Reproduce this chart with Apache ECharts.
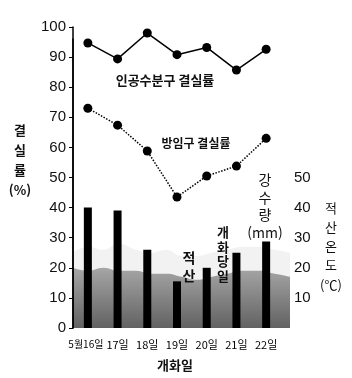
<!DOCTYPE html>
<html lang="ko">
<head>
<meta charset="UTF-8">
<title>결실률</title>
<style>html,body{margin:0;padding:0;background:#fff}#main{width:352px;height:378px}</style>
</head>
<body>
<div id="main"></div>
<script src="https://cdn.jsdelivr.net/npm/echarts@6/dist/echarts.min.js"></script>
<script>
const days = ['5월16일', '17일', '18일', '19일', '20일', '21일', '22일']
const handPollinated = [94.7, 89.4, 98, 90.8, 93.2, 85.7, 92.6]
const openPollinated = [73, 67.4, 58.8, 43.5, 50.5, 53.8, 63]
const rainfall = [40, 39, 26, 15.5, 20, 25, 28.7]
// 적산온도 shaded band, sampled across the plot (x from 0 to 1)
const tempX = [0, 0.07, 0.14, 0.21, 0.29, 0.36, 0.43, 0.5, 0.57, 0.64, 0.71, 0.79, 0.86, 0.93, 1]
const tempDense = [20, 19, 20, 19, 19, 18, 18, 17, 16, 17, 18, 19, 19, 18, 17]
const tempLight = [25, 27, 26, 28, 26, 25, 26, 24, 24, 25, 26, 27, 27, 26, 25]
const rightTicks = [10, 20, 30, 40, 50]

const KR = '"Noto Sans CJK KR", sans-serif'
const NUM = '"Liberation Sans", Arial, sans-serif'

let chart = echarts.init(document.getElementById('main'))

function vtext(str, x, top, size, lh, weight) {
  return {
    type: 'text', x: x, y: top, z: 20,
    style: {
      text: str, fill: '#111', font: (weight || 'normal') + ' ' + size + 'px ' + KR,
      lineHeight: lh, textAlign: 'center', align: 'center',
      textVerticalAlign: 'top', verticalAlign: 'top'
    }
  }
}

let option = {
  animation: false,
  grid: [
    { left: 73, right: 71, top: 27, bottom: 50 },
    { left: 73, right: 62, top: 39, bottom: 50 },
    { left: 73, right: 62, top: 177.5, bottom: 50 }
  ],
  xAxis: [
    {
      type: 'category', gridIndex: 0, data: days,
      axisLine: { show: false }, axisTick: { show: false },
      axisLabel: {
        color: '#000', fontFamily: KR, fontSize: 11, margin: 11, interval: 0,
        formatter: (v, i) => i === 0 ? '{s|' + v + '}' : v,
        rich: { s: { fontSize: 10, fontFamily: KR, color: '#000', padding: [0, 4, 0, 0] } }
      }
    },
    { type: 'value', gridIndex: 1, min: 0, max: 1, show: false },
    { type: 'value', gridIndex: 2, min: 0, max: 1, show: false }
  ],
  yAxis: [
    {
      type: 'value', gridIndex: 0, min: 0, max: 100, interval: 10,
      axisLine: { show: true, lineStyle: { color: '#000', width: 1.5 } },
      axisTick: { show: true, length: 4, lineStyle: { color: '#000' } },
      axisLabel: { color: '#111', fontFamily: NUM, fontSize: 15, margin: 7 },
      splitLine: { show: false }
    },
    {
      type: 'value', gridIndex: 1, position: 'right', min: 0, max: 96,
      axisLine: { show: true, lineStyle: { color: '#000', width: 1.5 } },
      axisTick: { show: false }, axisLabel: { show: false }, splitLine: { show: false }
    },
    {
      type: 'value', gridIndex: 2, position: 'right', min: 0, max: 50, interval: 10,
      axisLine: { show: false },
      axisTick: { show: true, inside: true, length: 4, lineStyle: { color: '#000' } },
      axisLabel: {
        color: '#111', fontFamily: NUM, fontSize: 15, margin: 4,
        formatter: v => rightTicks.includes(v) ? String(v) : ''
      },
      splitLine: { show: false }
    }
  ],
  series: [
    {
      type: 'line', xAxisIndex: 1, yAxisIndex: 1, z: 1, smooth: true, symbol: 'none',
      data: tempX.map((x, i) => [x, tempLight[i]]),
      lineStyle: { width: 0 },
      areaStyle: { color: 'rgba(0,0,0,0.07)' }
    },
    {
      type: 'line', xAxisIndex: 1, yAxisIndex: 1, z: 2, smooth: true, symbol: 'none',
      data: tempX.map((x, i) => [x, tempDense[i]]),
      lineStyle: { width: 0 },
      areaStyle: {
        color: new echarts.graphic.LinearGradient(0, 0, 0, 1, [
          { offset: 0, color: 'rgba(0,0,0,0.45)' },
          { offset: 1, color: 'rgba(0,0,0,0.85)' }
        ])
      }
    },
    {
      type: 'bar', xAxisIndex: 0, yAxisIndex: 0, z: 3, data: rainfall,
      barWidth: 8, itemStyle: { color: '#000' }
    },
    {
      type: 'line', xAxisIndex: 0, yAxisIndex: 0, z: 4, data: handPollinated,
      symbol: 'circle', symbolSize: 9,
      lineStyle: { color: '#000', width: 1.5 }, itemStyle: { color: '#000' }
    },
    {
      type: 'line', xAxisIndex: 0, yAxisIndex: 0, z: 4, data: openPollinated,
      symbol: 'circle', symbolSize: 9,
      lineStyle: { color: '#000', width: 1.5, type: 'dotted' }, itemStyle: { color: '#000' }
    }
  ],
  graphic: [
    vtext('결\n실\n률\n(%)', 20, 120, 13, 20, 'bold'),
    vtext('적\n산\n온\n도\n(℃)', 331, 198, 13, 19.3),
    vtext('강\n수\n량\n(mm)', 265, 171, 14, 17.5),
    vtext('개\n화\n당\n일', 223, 225, 13, 14.5, 'bold'),
    vtext('적\n산', 189, 249, 14, 18, 'bold'),
    {
      type: 'text', x: 165, y: 80, z: 20,
      style: { text: '인공수분구 결실률', fill: '#111', font: 'bold 13px ' + KR,
        textAlign: 'center', align: 'center', textVerticalAlign: 'middle', verticalAlign: 'middle' }
    },
    {
      type: 'text', x: 196, y: 143, z: 20,
      style: { text: '방임구 결실률', fill: '#111', font: 'bold 12px ' + KR,
        textAlign: 'center', align: 'center', textVerticalAlign: 'middle', verticalAlign: 'middle' }
    },
    {
      type: 'text', x: 175, y: 365, z: 20,
      style: { text: '개화일', fill: '#111', font: 'bold 13px ' + KR,
        textAlign: 'center', align: 'center', textVerticalAlign: 'middle', verticalAlign: 'middle' }
    }
  ]
}
chart.setOption(option)
</script>
</body>
</html>
